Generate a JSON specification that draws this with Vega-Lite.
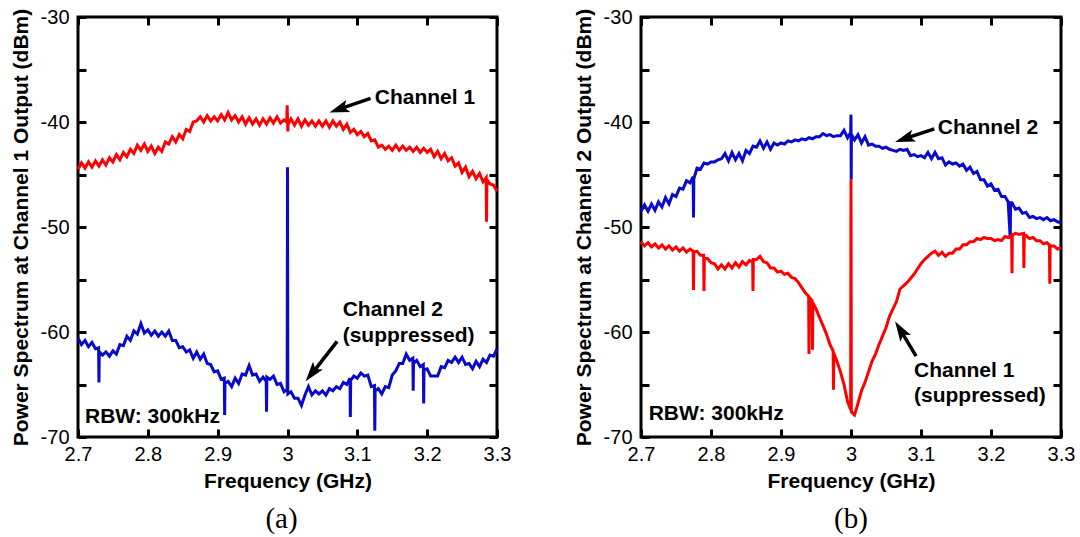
{
  "$schema": "https://vega.github.io/schema/vega-lite/v6.json",
  "padding": {"left": 8, "top": 5, "right": 5, "bottom": 0},
  "spacing": 58,
  "config": {
    "font": "Liberation Sans",
    "view": {"stroke": "black", "strokeWidth": 3},
    "axis": {"grid": false, "domain": false, "tickColor": "black", "tickWidth": 3, "tickSize": -8, "labelFontSize": 20, "labelColor": "black", "labelFont": "Liberation Sans", "labelFlush": false, "labelOverlap": false, "titleFontSize": 21, "titleFontWeight": "bold", "titleColor": "black", "titleFont": "Liberation Sans"},
    "axisX": {"labelPadding": 15},
    "axisY": {"labelPadding": 17},
    "text": {"font": "Liberation Sans", "fontWeight": "bold", "fontSize": 21, "color": "black"}
  },
  "datasets": {
    "aR": [
      {"f":2.700,"v":-44.5},{"f":2.705,"v":-43.9},{"f":2.710,"v":-44.4},{"f":2.715,"v":-43.8},{"f":2.720,"v":-44.3},{"f":2.725,"v":-43.7},{"f":2.730,"v":-44.2},{"f":2.735,"v":-43.6},{"f":2.740,"v":-44.1},{"f":2.745,"v":-43.4},{"f":2.750,"v":-43.8},{"f":2.755,"v":-43.1},{"f":2.760,"v":-43.6},{"f":2.765,"v":-42.9},{"f":2.770,"v":-43.3},{"f":2.775,"v":-42.6},{"f":2.780,"v":-43.0},{"f":2.785,"v":-42.2},{"f":2.790,"v":-42.7},{"f":2.795,"v":-42.1},{"f":2.800,"v":-42.8},{"f":2.805,"v":-42.3},{"f":2.810,"v":-43.0},{"f":2.815,"v":-42.4},{"f":2.820,"v":-42.8},{"f":2.825,"v":-41.9},{"f":2.830,"v":-42.1},{"f":2.835,"v":-41.4},{"f":2.840,"v":-41.9},{"f":2.845,"v":-41.2},{"f":2.850,"v":-41.6},{"f":2.855,"v":-40.7},{"f":2.860,"v":-40.9},{"f":2.865,"v":-40.0},{"f":2.870,"v":-39.9},{"f":2.875,"v":-39.5},{"f":2.880,"v":-40.0},{"f":2.885,"v":-39.4},{"f":2.890,"v":-39.9},{"f":2.895,"v":-39.5},{"f":2.900,"v":-39.9},{"f":2.905,"v":-39.3},{"f":2.910,"v":-39.8},{"f":2.915,"v":-39.1},{"f":2.920,"v":-39.8},{"f":2.925,"v":-39.4},{"f":2.930,"v":-40.0},{"f":2.935,"v":-39.5},{"f":2.940,"v":-40.2},{"f":2.945,"v":-39.6},{"f":2.950,"v":-40.2},{"f":2.955,"v":-39.7},{"f":2.960,"v":-40.3},{"f":2.965,"v":-39.7},{"f":2.970,"v":-40.2},{"f":2.975,"v":-39.6},{"f":2.980,"v":-40.1},{"f":2.985,"v":-39.5},{"f":2.990,"v":-40.1},{"f":2.995,"v":-39.8},{"f":2.999,"v":-40.0},{"f":2.9995,"v":-38.4},{"f":3.0005,"v":-40.9},{"f":3.001,"v":-40.2},{"f":3.005,"v":-39.7},{"f":3.010,"v":-40.3},{"f":3.015,"v":-39.7},{"f":3.020,"v":-40.4},{"f":3.025,"v":-39.8},{"f":3.030,"v":-40.3},{"f":3.035,"v":-39.9},{"f":3.040,"v":-40.4},{"f":3.045,"v":-39.9},{"f":3.050,"v":-40.4},{"f":3.055,"v":-39.9},{"f":3.060,"v":-40.5},{"f":3.065,"v":-39.9},{"f":3.070,"v":-40.4},{"f":3.075,"v":-40.0},{"f":3.080,"v":-40.7},{"f":3.085,"v":-40.2},{"f":3.090,"v":-41.0},{"f":3.095,"v":-40.7},{"f":3.100,"v":-41.2},{"f":3.105,"v":-40.9},{"f":3.110,"v":-41.4},{"f":3.115,"v":-41.1},{"f":3.120,"v":-41.8},{"f":3.125,"v":-41.7},{"f":3.130,"v":-42.4},{"f":3.135,"v":-42.2},{"f":3.140,"v":-42.6},{"f":3.145,"v":-42.3},{"f":3.150,"v":-42.7},{"f":3.155,"v":-42.2},{"f":3.160,"v":-42.7},{"f":3.165,"v":-42.3},{"f":3.170,"v":-42.7},{"f":3.175,"v":-42.4},{"f":3.180,"v":-42.8},{"f":3.185,"v":-42.4},{"f":3.190,"v":-42.9},{"f":3.195,"v":-42.5},{"f":3.200,"v":-42.9},{"f":3.205,"v":-42.6},{"f":3.210,"v":-43.3},{"f":3.215,"v":-42.8},{"f":3.220,"v":-43.5},{"f":3.225,"v":-43.0},{"f":3.230,"v":-43.7},{"f":3.235,"v":-43.4},{"f":3.240,"v":-44.2},{"f":3.245,"v":-43.9},{"f":3.250,"v":-44.8},{"f":3.255,"v":-44.3},{"f":3.260,"v":-45.2},{"f":3.265,"v":-44.7},{"f":3.270,"v":-45.4},{"f":3.275,"v":-44.9},{"f":3.280,"v":-45.7},{"f":3.2845,"v":-45.3},{"f":3.285,"v":-49.5},{"f":3.2855,"v":-45.5},{"f":3.290,"v":-45.9},{"f":3.295,"v":-46.0},{"f":3.300,"v":-46.6}
    ],
    "aB": [
      {"f":2.700,"v":-60.6},{"f":2.705,"v":-61.2},{"f":2.710,"v":-60.8},{"f":2.715,"v":-61.4},{"f":2.720,"v":-61.0},{"f":2.725,"v":-61.6},{"f":2.7295,"v":-61.5},{"f":2.730,"v":-64.8},{"f":2.7305,"v":-61.9},{"f":2.735,"v":-62.2},{"f":2.740,"v":-61.9},{"f":2.745,"v":-62.3},{"f":2.750,"v":-61.8},{"f":2.755,"v":-62.1},{"f":2.760,"v":-61.2},{"f":2.765,"v":-61.3},{"f":2.770,"v":-60.4},{"f":2.775,"v":-60.8},{"f":2.780,"v":-59.9},{"f":2.785,"v":-60.2},{"f":2.790,"v":-59.2},{"f":2.795,"v":-60.1},{"f":2.800,"v":-59.8},{"f":2.805,"v":-60.3},{"f":2.810,"v":-59.9},{"f":2.815,"v":-60.4},{"f":2.820,"v":-60.0},{"f":2.825,"v":-60.4},{"f":2.830,"v":-59.9},{"f":2.835,"v":-60.8},{"f":2.840,"v":-60.8},{"f":2.845,"v":-61.5},{"f":2.850,"v":-61.4},{"f":2.855,"v":-61.9},{"f":2.860,"v":-61.7},{"f":2.865,"v":-62.5},{"f":2.870,"v":-61.9},{"f":2.875,"v":-62.6},{"f":2.880,"v":-62.1},{"f":2.885,"v":-63.0},{"f":2.890,"v":-63.1},{"f":2.895,"v":-63.8},{"f":2.900,"v":-63.7},{"f":2.905,"v":-64.5},{"f":2.9095,"v":-64.4},{"f":2.910,"v":-67.9},{"f":2.9105,"v":-64.9},{"f":2.915,"v":-64.7},{"f":2.920,"v":-65.2},{"f":2.925,"v":-64.4},{"f":2.930,"v":-64.9},{"f":2.935,"v":-64.0},{"f":2.940,"v":-64.1},{"f":2.945,"v":-63.2},{"f":2.950,"v":-64.1},{"f":2.955,"v":-64.0},{"f":2.960,"v":-64.7},{"f":2.965,"v":-64.3},{"f":2.9695,"v":-64.7},{"f":2.970,"v":-67.6},{"f":2.9705,"v":-64.3},{"f":2.975,"v":-64.5},{"f":2.980,"v":-64.2},{"f":2.985,"v":-65.0},{"f":2.990,"v":-64.9},{"f":2.995,"v":-65.7},{"f":2.9995,"v":-65.5},{"f":3.000,"v":-44.3},{"f":3.0005,"v":-65.9},{"f":3.005,"v":-65.7},{"f":3.010,"v":-66.3},{"f":3.015,"v":-66.3},{"f":3.020,"v":-67.0},{"f":3.025,"v":-66.0},{"f":3.030,"v":-65.2},{"f":3.035,"v":-66.0},{"f":3.040,"v":-65.6},{"f":3.045,"v":-65.9},{"f":3.050,"v":-65.6},{"f":3.055,"v":-66.0},{"f":3.060,"v":-65.4},{"f":3.065,"v":-65.6},{"f":3.070,"v":-65.2},{"f":3.075,"v":-65.4},{"f":3.080,"v":-64.8},{"f":3.085,"v":-65.0},{"f":3.0895,"v":-64.4},{"f":3.090,"v":-68.1},{"f":3.0905,"v":-64.6},{"f":3.095,"v":-64.2},{"f":3.100,"v":-64.4},{"f":3.105,"v":-63.9},{"f":3.110,"v":-64.2},{"f":3.115,"v":-64.1},{"f":3.120,"v":-65.2},{"f":3.1245,"v":-65.1},{"f":3.125,"v":-69.4},{"f":3.1255,"v":-65.6},{"f":3.130,"v":-65.4},{"f":3.135,"v":-65.9},{"f":3.140,"v":-65.2},{"f":3.145,"v":-65.3},{"f":3.150,"v":-64.1},{"f":3.155,"v":-63.7},{"f":3.160,"v":-63.0},{"f":3.165,"v":-63.0},{"f":3.170,"v":-62.1},{"f":3.175,"v":-62.7},{"f":3.1795,"v":-62.5},{"f":3.180,"v":-65.6},{"f":3.1805,"v":-63.0},{"f":3.185,"v":-62.7},{"f":3.190,"v":-63.3},{"f":3.1945,"v":-63.1},{"f":3.195,"v":-66.8},{"f":3.1955,"v":-63.6},{"f":3.200,"v":-63.5},{"f":3.205,"v":-64.2},{"f":3.210,"v":-64.2},{"f":3.215,"v":-64.2},{"f":3.220,"v":-63.3},{"f":3.225,"v":-63.4},{"f":3.230,"v":-62.7},{"f":3.235,"v":-62.9},{"f":3.240,"v":-62.4},{"f":3.245,"v":-62.9},{"f":3.250,"v":-62.4},{"f":3.255,"v":-63.1},{"f":3.260,"v":-63.0},{"f":3.265,"v":-63.5},{"f":3.270,"v":-62.8},{"f":3.275,"v":-63.3},{"f":3.280,"v":-62.6},{"f":3.285,"v":-62.9},{"f":3.290,"v":-62.2},{"f":3.295,"v":-62.3},{"f":3.300,"v":-61.6}
    ],
    "bB": [
      {"f":2.700,"v":-48.5},{"f":2.705,"v":-47.9},{"f":2.710,"v":-48.5},{"f":2.715,"v":-47.8},{"f":2.720,"v":-48.4},{"f":2.725,"v":-47.6},{"f":2.730,"v":-48.1},{"f":2.735,"v":-47.2},{"f":2.740,"v":-47.8},{"f":2.745,"v":-46.9},{"f":2.750,"v":-47.1},{"f":2.755,"v":-46.3},{"f":2.760,"v":-46.4},{"f":2.765,"v":-45.6},{"f":2.770,"v":-45.8},{"f":2.7745,"v":-45.2},{"f":2.775,"v":-49.1},{"f":2.7755,"v":-45.4},{"f":2.780,"v":-44.4},{"f":2.785,"v":-44.5},{"f":2.790,"v":-43.9},{"f":2.795,"v":-44.0},{"f":2.800,"v":-43.8},{"f":2.805,"v":-43.8},{"f":2.810,"v":-43.6},{"f":2.815,"v":-43.5},{"f":2.820,"v":-43.0},{"f":2.825,"v":-43.7},{"f":2.830,"v":-42.9},{"f":2.835,"v":-43.6},{"f":2.840,"v":-43.0},{"f":2.845,"v":-43.7},{"f":2.850,"v":-42.7},{"f":2.855,"v":-43.0},{"f":2.860,"v":-42.3},{"f":2.865,"v":-42.4},{"f":2.870,"v":-41.8},{"f":2.875,"v":-42.5},{"f":2.880,"v":-41.9},{"f":2.885,"v":-42.6},{"f":2.890,"v":-42.0},{"f":2.895,"v":-42.2},{"f":2.900,"v":-42.0},{"f":2.905,"v":-42.1},{"f":2.910,"v":-41.8},{"f":2.915,"v":-41.9},{"f":2.920,"v":-41.7},{"f":2.925,"v":-41.8},{"f":2.930,"v":-41.6},{"f":2.935,"v":-41.7},{"f":2.940,"v":-41.5},{"f":2.945,"v":-41.6},{"f":2.950,"v":-41.4},{"f":2.955,"v":-41.4},{"f":2.960,"v":-41.1},{"f":2.965,"v":-41.3},{"f":2.970,"v":-41.2},{"f":2.975,"v":-41.4},{"f":2.980,"v":-41.3},{"f":2.985,"v":-41.3},{"f":2.990,"v":-40.8},{"f":2.995,"v":-41.5},{"f":2.9995,"v":-41.0},{"f":3.000,"v":-39.3},{"f":3.0003,"v":-45.5},{"f":3.0006,"v":-41.2},{"f":3.005,"v":-41.7},{"f":3.010,"v":-41.2},{"f":3.015,"v":-42.0},{"f":3.020,"v":-41.4},{"f":3.025,"v":-42.2},{"f":3.030,"v":-42.1},{"f":3.035,"v":-42.3},{"f":3.040,"v":-42.3},{"f":3.045,"v":-42.5},{"f":3.050,"v":-42.4},{"f":3.055,"v":-42.6},{"f":3.060,"v":-42.7},{"f":3.065,"v":-42.8},{"f":3.070,"v":-42.6},{"f":3.075,"v":-42.7},{"f":3.080,"v":-42.6},{"f":3.085,"v":-43.2},{"f":3.090,"v":-43.1},{"f":3.095,"v":-43.3},{"f":3.100,"v":-43.2},{"f":3.105,"v":-43.4},{"f":3.110,"v":-42.9},{"f":3.115,"v":-43.5},{"f":3.120,"v":-42.9},{"f":3.125,"v":-43.5},{"f":3.130,"v":-43.4},{"f":3.135,"v":-44.1},{"f":3.140,"v":-43.8},{"f":3.145,"v":-44.0},{"f":3.150,"v":-43.9},{"f":3.155,"v":-44.2},{"f":3.160,"v":-44.0},{"f":3.165,"v":-44.6},{"f":3.170,"v":-44.3},{"f":3.175,"v":-44.9},{"f":3.180,"v":-44.7},{"f":3.185,"v":-45.5},{"f":3.190,"v":-45.5},{"f":3.195,"v":-46.1},{"f":3.200,"v":-45.9},{"f":3.205,"v":-46.5},{"f":3.210,"v":-46.4},{"f":3.215,"v":-47.1},{"f":3.220,"v":-47.1},{"f":3.2245,"v":-47.6},{"f":3.2275,"v":-51.1},{"f":3.228,"v":-47.7},{"f":3.230,"v":-47.7},{"f":3.235,"v":-48.3},{"f":3.240,"v":-48.2},{"f":3.245,"v":-48.7},{"f":3.250,"v":-48.6},{"f":3.255,"v":-49.1},{"f":3.260,"v":-49.0},{"f":3.265,"v":-49.2},{"f":3.270,"v":-49.1},{"f":3.275,"v":-49.3},{"f":3.280,"v":-49.1},{"f":3.285,"v":-49.4},{"f":3.290,"v":-49.3},{"f":3.295,"v":-49.5},{"f":3.300,"v":-49.6}
    ],
    "bR": [
      {"f":2.700,"v":-51.4},{"f":2.705,"v":-51.8},{"f":2.710,"v":-51.5},{"f":2.715,"v":-51.9},{"f":2.720,"v":-51.6},{"f":2.725,"v":-52.0},{"f":2.730,"v":-51.7},{"f":2.735,"v":-52.1},{"f":2.740,"v":-51.8},{"f":2.745,"v":-52.2},{"f":2.750,"v":-51.9},{"f":2.755,"v":-52.3},{"f":2.760,"v":-52.0},{"f":2.765,"v":-52.4},{"f":2.770,"v":-52.1},{"f":2.7745,"v":-52.3},{"f":2.775,"v":-56.0},{"f":2.7755,"v":-52.4},{"f":2.780,"v":-52.3},{"f":2.785,"v":-52.7},{"f":2.7895,"v":-52.7},{"f":2.790,"v":-56.1},{"f":2.7905,"v":-53.0},{"f":2.795,"v":-53.0},{"f":2.800,"v":-53.4},{"f":2.805,"v":-53.5},{"f":2.810,"v":-54.0},{"f":2.815,"v":-53.6},{"f":2.820,"v":-54.0},{"f":2.825,"v":-53.5},{"f":2.830,"v":-53.9},{"f":2.835,"v":-53.4},{"f":2.840,"v":-53.8},{"f":2.845,"v":-53.3},{"f":2.850,"v":-53.6},{"f":2.855,"v":-53.2},{"f":2.8595,"v":-53.3},{"f":2.860,"v":-56.1},{"f":2.8605,"v":-53.1},{"f":2.865,"v":-53.1},{"f":2.870,"v":-52.8},{"f":2.875,"v":-53.3},{"f":2.880,"v":-53.4},{"f":2.885,"v":-53.9},{"f":2.890,"v":-53.9},{"f":2.895,"v":-54.3},{"f":2.900,"v":-54.2},{"f":2.905,"v":-54.5},{"f":2.910,"v":-54.4},{"f":2.915,"v":-54.8},{"f":2.920,"v":-54.9},{"f":2.925,"v":-55.3},{"f":2.930,"v":-55.8},{"f":2.935,"v":-56.3},{"f":2.9395,"v":-56.6},{"f":2.940,"v":-62.1},{"f":2.9405,"v":-56.7},{"f":2.9445,"v":-57.0},{"f":2.945,"v":-61.7},{"f":2.9455,"v":-57.2},{"f":2.950,"v":-57.8},{"f":2.955,"v":-58.6},{"f":2.960,"v":-59.4},{"f":2.965,"v":-60.2},{"f":2.970,"v":-61.2},{"f":2.9745,"v":-61.8},{"f":2.975,"v":-65.5},{"f":2.9755,"v":-62.0},{"f":2.980,"v":-62.8},{"f":2.985,"v":-63.8},{"f":2.990,"v":-65.0},{"f":2.995,"v":-66.6},{"f":2.9995,"v":-67.4},{"f":3.000,"v":-45.5},{"f":3.0005,"v":-67.6},{"f":3.005,"v":-67.9},{"f":3.010,"v":-66.8},{"f":3.015,"v":-65.6},{"f":3.020,"v":-64.8},{"f":3.025,"v":-63.8},{"f":3.030,"v":-62.8},{"f":3.035,"v":-62.1},{"f":3.040,"v":-61.2},{"f":3.045,"v":-60.4},{"f":3.050,"v":-59.6},{"f":3.055,"v":-58.5},{"f":3.060,"v":-57.8},{"f":3.065,"v":-57.1},{"f":3.070,"v":-55.9},{"f":3.075,"v":-55.6},{"f":3.080,"v":-55.3},{"f":3.085,"v":-54.9},{"f":3.090,"v":-54.5},{"f":3.095,"v":-54.0},{"f":3.100,"v":-53.5},{"f":3.105,"v":-53.1},{"f":3.110,"v":-52.8},{"f":3.115,"v":-52.5},{"f":3.120,"v":-52.3},{"f":3.125,"v":-52.7},{"f":3.130,"v":-52.4},{"f":3.135,"v":-52.8},{"f":3.140,"v":-52.5},{"f":3.145,"v":-52.5},{"f":3.150,"v":-52.1},{"f":3.155,"v":-52.1},{"f":3.160,"v":-51.7},{"f":3.165,"v":-51.7},{"f":3.170,"v":-51.4},{"f":3.175,"v":-51.4},{"f":3.180,"v":-51.1},{"f":3.185,"v":-51.2},{"f":3.190,"v":-51.0},{"f":3.195,"v":-51.1},{"f":3.200,"v":-51.1},{"f":3.205,"v":-51.3},{"f":3.210,"v":-51.2},{"f":3.215,"v":-51.3},{"f":3.220,"v":-50.9},{"f":3.225,"v":-51.0},{"f":3.2295,"v":-50.8},{"f":3.230,"v":-54.4},{"f":3.2305,"v":-50.8},{"f":3.235,"v":-50.6},{"f":3.240,"v":-50.7},{"f":3.2465,"v":-50.6},{"f":3.247,"v":-53.9},{"f":3.2475,"v":-50.9},{"f":3.250,"v":-50.8},{"f":3.255,"v":-51.1},{"f":3.260,"v":-51.0},{"f":3.265,"v":-51.3},{"f":3.270,"v":-51.3},{"f":3.275,"v":-51.6},{"f":3.280,"v":-51.5},{"f":3.2835,"v":-51.7},{"f":3.284,"v":-55.4},{"f":3.2845,"v":-51.8},{"f":3.290,"v":-51.8},{"f":3.295,"v":-52.1},{"f":3.300,"v":-52.0}
    ],
    "aText": [
      {"f":3.125,"v":-37.7,"t":"Channel 1"},
      {"f":3.079,"v":-57.9,"t":"Channel 2"},
      {"f":3.079,"v":-60.4,"t":"(suppressed)"},
      {"f":2.710,"v":-68.1,"t":"RBW: 300kHz"}
    ],
    "aArrow": [
      {"f":3.119,"v":-37.75,"f2":3.076,"v2":-38.73,"hf":3.060,"hv":-39.1,"a":251},
      {"f":3.071,"v":-60.9,"f2":3.037,"v2":-63.8,"hf":3.026,"hv":-64.7,"a":218}
    ],
    "bText": [
      {"f":3.124,"v":-40.6,"t":"Channel 2"},
      {"f":3.090,"v":-63.7,"t":"Channel 1"},
      {"f":3.090,"v":-66.1,"t":"(suppressed)"},
      {"f":2.711,"v":-67.8,"t":"RBW: 300kHz"}
    ],
    "bArrow": [
      {"f":3.119,"v":-40.65,"f2":3.079,"v2":-41.54,"hf":3.063,"hv":-41.9,"a":251.5},
      {"f":3.093,"v":-62.3,"f2":3.072,"v2":-59.97,"hf":3.063,"hv":-59.0,"a":328}
    ]
  },
  "hconcat": [
    {
      "width": 419,
      "height": 420,
      "title": {"text": "(a)", "orient": "bottom", "anchor": "middle", "frame": "group", "font": "Liberation Serif", "fontSize": 29, "fontWeight": "normal", "color": "black", "offset": 14, "dx": -6},
      "resolve": {"axis": {"x": "independent", "y": "independent"}},
      "layer": [
        {
          "data": {"name": "aR"},
          "mark": {"type": "line", "color": "#ff0000", "strokeWidth": 3},
          "encoding": {
            "x": {"field": "f", "type": "quantitative", "scale": {"domain": [2.7, 3.3]}, "axis": {"orient": "bottom", "values": [2.7, 2.8, 2.9, 3.0, 3.1, 3.2, 3.3], "format": "~g", "title": "Frequency (GHz)", "titlePadding": 6}},
            "y": {"field": "v", "type": "quantitative", "scale": {"domain": [-70, -30]}, "axis": {"orient": "left", "values": [-70, -65, -60, -55, -50, -45, -40, -35, -30], "labelExpr": "datum.value % 10 == 0 ? '' + datum.value : ''", "title": "Power Spectrum at Channel 1 Output (dBm)", "titlePadding": 9}}
          }
        },
        {
          "data": {"name": "aB"},
          "mark": {"type": "line", "color": "#0a0acd", "strokeWidth": 3},
          "encoding": {
            "x": {"field": "f", "type": "quantitative", "scale": {"domain": [2.7, 3.3]}, "axis": {"orient": "top", "values": [2.7, 2.8, 2.9, 3.0, 3.1, 3.2, 3.3], "labels": false, "title": null}},
            "y": {"field": "v", "type": "quantitative", "scale": {"domain": [-70, -30]}, "axis": {"orient": "right", "values": [-70, -65, -60, -55, -50, -45, -40, -35, -30], "labels": false, "title": null}}
          }
        },
        {
          "data": {"name": "aArrow"},
          "mark": {"type": "rule", "color": "black", "strokeWidth": 3.5},
          "encoding": {
            "x": {"field": "f", "type": "quantitative", "axis": null},
            "y": {"field": "v", "type": "quantitative", "axis": null},
            "x2": {"field": "f2"},
            "y2": {"field": "v2"}
          }
        },
        {
          "data": {"name": "aArrow"},
          "mark": {"type": "point", "shape": "M0,0L-0.6,1.9L0,1.5L0.6,1.9Z", "filled": true, "color": "black", "opacity": 1, "size": 441},
          "encoding": {
            "x": {"field": "hf", "type": "quantitative", "axis": null},
            "y": {"field": "hv", "type": "quantitative", "axis": null},
            "angle": {"field": "a", "type": "quantitative", "scale": null}
          }
        },
        {
          "data": {"name": "aText"},
          "mark": {"type": "text", "align": "left", "baseline": "middle"},
          "encoding": {
            "x": {"field": "f", "type": "quantitative", "axis": null},
            "y": {"field": "v", "type": "quantitative", "axis": null},
            "text": {"field": "t"}
          }
        }
      ]
    },
    {
      "width": 420,
      "height": 420,
      "title": {"text": "(b)", "orient": "bottom", "anchor": "middle", "frame": "group", "font": "Liberation Serif", "fontSize": 29, "fontWeight": "normal", "color": "black", "offset": 14},
      "resolve": {"axis": {"x": "independent", "y": "independent"}},
      "layer": [
        {
          "data": {"name": "bB"},
          "mark": {"type": "line", "color": "#0a0acd", "strokeWidth": 3},
          "encoding": {
            "x": {"field": "f", "type": "quantitative", "scale": {"domain": [2.7, 3.3]}, "axis": {"orient": "bottom", "values": [2.7, 2.8, 2.9, 3.0, 3.1, 3.2, 3.3], "format": "~g", "title": "Frequency (GHz)", "titlePadding": 6}},
            "y": {"field": "v", "type": "quantitative", "scale": {"domain": [-70, -30]}, "axis": {"orient": "left", "values": [-70, -65, -60, -55, -50, -45, -40, -35, -30], "labelExpr": "datum.value % 10 == 0 ? '' + datum.value : ''", "title": "Power Spectrum at Channel 2 Output (dBm)", "titlePadding": 9}}
          }
        },
        {
          "data": {"name": "bR"},
          "mark": {"type": "line", "color": "#ff0000", "strokeWidth": 3},
          "encoding": {
            "x": {"field": "f", "type": "quantitative", "scale": {"domain": [2.7, 3.3]}, "axis": {"orient": "top", "values": [2.7, 2.8, 2.9, 3.0, 3.1, 3.2, 3.3], "labels": false, "title": null}},
            "y": {"field": "v", "type": "quantitative", "scale": {"domain": [-70, -30]}, "axis": {"orient": "right", "values": [-70, -65, -60, -55, -50, -45, -40, -35, -30], "labels": false, "title": null}}
          }
        },
        {
          "data": {"name": "bArrow"},
          "mark": {"type": "rule", "color": "black", "strokeWidth": 3.5},
          "encoding": {
            "x": {"field": "f", "type": "quantitative", "axis": null},
            "y": {"field": "v", "type": "quantitative", "axis": null},
            "x2": {"field": "f2"},
            "y2": {"field": "v2"}
          }
        },
        {
          "data": {"name": "bArrow"},
          "mark": {"type": "point", "shape": "M0,0L-0.6,1.9L0,1.5L0.6,1.9Z", "filled": true, "color": "black", "opacity": 1, "size": 441},
          "encoding": {
            "x": {"field": "hf", "type": "quantitative", "axis": null},
            "y": {"field": "hv", "type": "quantitative", "axis": null},
            "angle": {"field": "a", "type": "quantitative", "scale": null}
          }
        },
        {
          "data": {"name": "bText"},
          "mark": {"type": "text", "align": "left", "baseline": "middle"},
          "encoding": {
            "x": {"field": "f", "type": "quantitative", "axis": null},
            "y": {"field": "v", "type": "quantitative", "axis": null},
            "text": {"field": "t"}
          }
        }
      ]
    }
  ]
}
